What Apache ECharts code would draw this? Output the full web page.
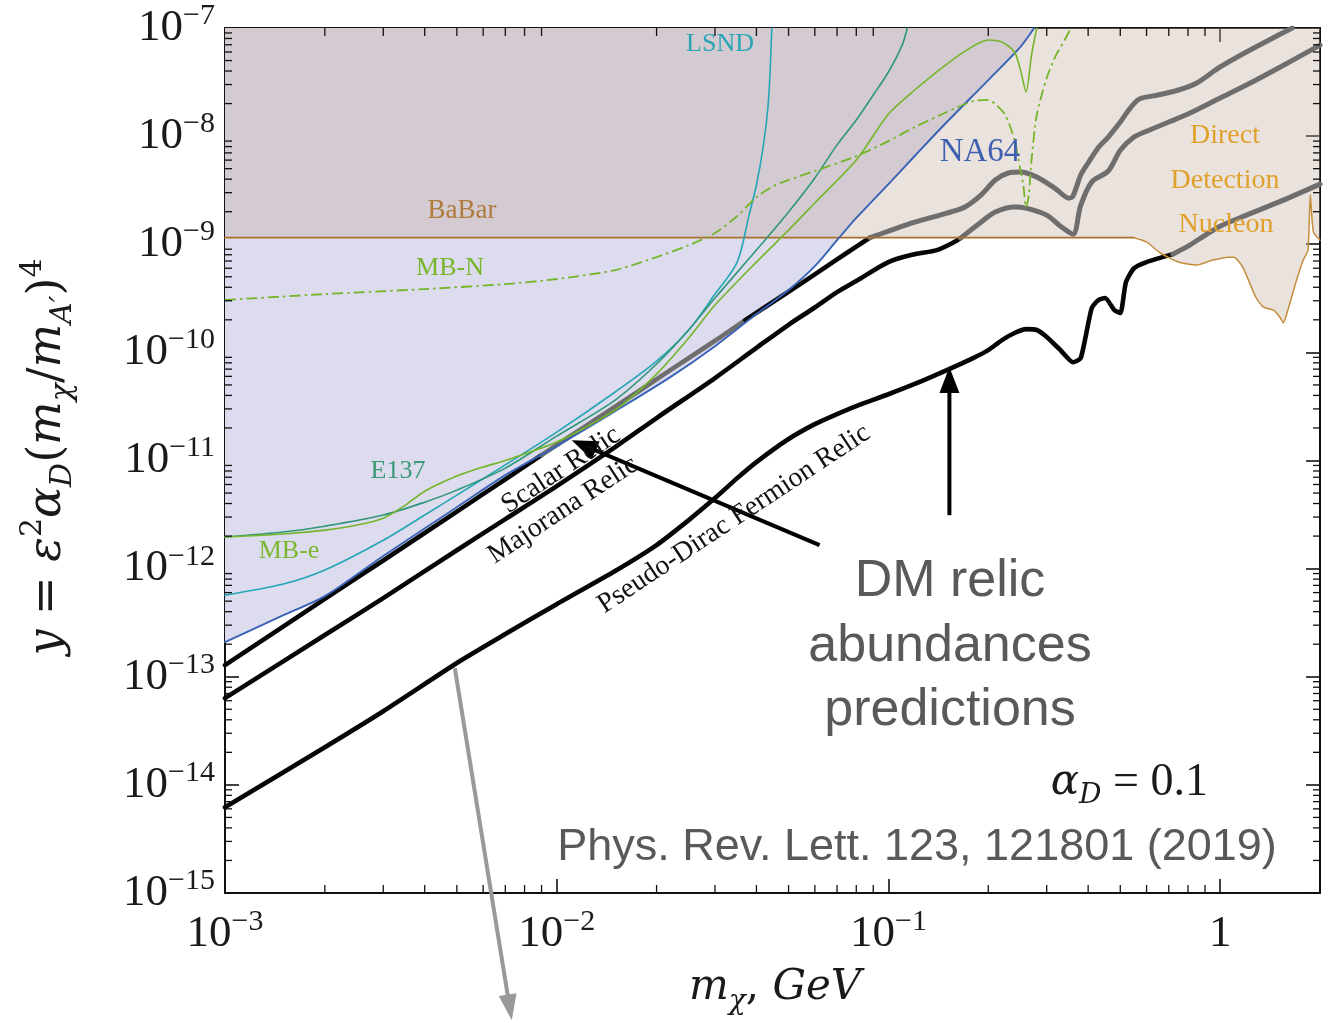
<!DOCTYPE html>
<html>
<head>
<meta charset="utf-8">
<script src="https://cdn.jsdelivr.net/npm/echarts/dist/echarts.min.js"></script>
<style>
  html, body { margin: 0; padding: 0; background: #ffffff; }
  #chart { width: 1339px; height: 1023px; }
</style>
</head>
<body>
<div id="chart"></div>
<script>
// ---- axis ranges (GeV, y) ----
const massRange = [1e-3, 2];
const yRange = [1e-15, 1e-7];
const minorSteps = [2, 3, 4, 5, 6, 7, 8, 9];

// ---- exclusion limits: [m_chi (GeV), y] ----
const na64 = [
  [1e-3, 2.09e-13], [1.5e-3, 3.71e-13], [2e-3, 5.56e-13], [3e-3, 1.31e-12], [5e-3, 3.7e-12],
  [7e-3, 7.33e-12], [1e-2, 1.36e-11], [1.5e-2, 2.86e-11], [2.2e-2, 5.9e-11], [3e-2, 1.14e-10],
  [4e-2, 2.26e-10], [5e-2, 3.77e-10], [6e-2, 6.27e-10], [7e-2, 1.09e-9], [8e-2, 1.75e-9],
  [0.1, 3.6e-9], [0.12, 6.55e-9], [0.15, 1.35e-8], [0.2, 3.3e-8], [0.25, 6.7e-8], [0.275, 1e-7]
];
const babar = [[1e-3, 1.15e-9], [0.55, 1.15e-9]];
const nucleon = [
  [0.55, 1.15e-9], [0.6, 1.05e-9], [0.66, 8.3e-10], [0.75, 6.84e-10], [0.85, 6.42e-10],
  [0.95, 7.14e-10], [1.06, 7.6e-10], [1.1, 7.6e-10], [1.17, 6.15e-10], [1.28, 3.25e-10],
  [1.35, 2.62e-10], [1.45, 2.46e-10], [1.52, 2.08e-10], [1.55, 1.87e-10], [1.6, 2.46e-10],
  [1.7, 4.67e-10], [1.78, 7.14e-10], [1.84, 8.8e-10], [1.87, 2.85e-9], [1.91, 1.3e-9], [2, 1.09e-9]
];
const lsnd = [
  [1e-3, 5.69e-13], [1.5e-3, 7.2e-13], [2e-3, 9.7e-13], [3e-3, 1.83e-12], [4e-3, 3.13e-12],
  [5e-3, 4.79e-12], [7e-3, 9.1e-12], [1e-2, 1.83e-11], [1.5e-2, 4.3e-11], [2e-2, 8.3e-11],
  [2.5e-2, 1.61e-10], [3e-2, 3.46e-10], [3.5e-2, 6.84e-10], [3.8e-2, 1.86e-9], [4e-2, 3.53e-9],
  [4.2e-2, 8.3e-9], [4.35e-2, 2.16e-8], [4.45e-2, 1e-7]
];
const e137 = [
  [1e-3, 1.96e-12], [1.5e-3, 2.18e-12], [2e-3, 2.47e-12], [3e-3, 3.13e-12], [4e-3, 4.12e-12],
  [5e-3, 5.32e-12], [7e-3, 8.5e-12], [1e-2, 1.68e-11], [1.5e-2, 3.62e-11], [2e-2, 7.8e-11],
  [2.5e-2, 1.61e-10], [3e-2, 3.18e-10], [4e-2, 8.83e-10], [5e-2, 1.99e-9], [6e-2, 4.1e-9],
  [7e-2, 8.3e-9], [8e-2, 1.41e-8], [9e-2, 2.4e-8], [0.1, 3.92e-8], [0.11, 6.95e-8], [0.114, 1e-7]
];
const mbElectron = [
  [1e-3, 1.96e-12], [1.5e-3, 2.09e-12], [2e-3, 2.27e-12], [2.5e-3, 2.53e-12], [3e-3, 2.93e-12],
  [3.5e-3, 3.87e-12], [4e-3, 5.2e-12], [5e-3, 7.18e-12], [6e-3, 8.7e-12], [7e-3, 1.0e-11],
  [1e-2, 1.48e-11], [1.5e-2, 2.93e-11], [2e-2, 6.3e-11], [2.5e-2, 1.36e-10], [3e-2, 2.74e-10],
  [4e-2, 6.84e-10], [5e-2, 1.35e-9], [6e-2, 2.41e-9], [8e-2, 6.0e-9], [0.1, 1.6e-8],
  [0.12, 2.67e-8], [0.15, 4.64e-8], [0.18, 6.8e-8], [0.2, 7.75e-8], [0.22, 7.4e-8],
  [0.24, 6.0e-8], [0.25, 4.1e-8], [0.26, 2.56e-8], [0.27, 5.6e-8], [0.28, 1e-7]
];
const mbNucleon = [
  [1e-3, 3.05e-10], [2e-3, 3.46e-10], [4e-3, 3.85e-10], [7e-3, 4.28e-10], [1e-2, 4.77e-10],
  [1.5e-2, 5.77e-10], [2e-2, 7.61e-10], [2.5e-2, 9.8e-10], [3e-2, 1.27e-9], [3.5e-2, 1.82e-9],
  [4e-2, 2.73e-9], [4.5e-2, 3.45e-9], [5e-2, 3.93e-9], [6e-2, 4.76e-9], [8e-2, 6.53e-9],
  [0.1, 9.0e-9], [0.12, 1.21e-8], [0.15, 1.67e-8], [0.18, 2.11e-8], [0.2, 2.16e-8],
  [0.21, 1.98e-8], [0.225, 1.57e-8], [0.24, 9.2e-9], [0.25, 4.85e-9], [0.255, 3.53e-9],
  [0.26, 2.21e-9], [0.265, 2.85e-9], [0.27, 6.0e-9], [0.28, 1.57e-8], [0.3, 3.45e-8],
  [0.32, 5.6e-8], [0.34, 7.75e-8], [0.355, 1e-7]
];

// ---- thermal relic targets (black = allowed, grey = already excluded) ----
const scalarAllowedLow = [[1e-3, 1.28e-13], [2e-3, 5.25e-13], [3e-3, 1.19e-12], [5e-3, 3.37e-12], [7e-3, 6.7e-12], [9e-3, 1.12e-11]];
const scalarExcludedLow = [[9e-3, 1.12e-11], [1e-2, 1.39e-11], [1.5e-2, 3.14e-11], [2.2e-2, 6.85e-11], [3e-2, 1.28e-10], [3.7e-2, 1.99e-10]];
const scalarAllowedMid = [[3.7e-2, 1.99e-10], [5e-2, 3.64e-10], [6e-2, 5.26e-10], [7e-2, 7.25e-10], [8e-2, 9.5e-10], [8.8e-2, 1.15e-9]];
const scalarExcludedHigh = [
  [8.8e-2, 1.15e-9], [0.1, 1.32e-9], [0.12, 1.6e-9], [0.15, 1.94e-9], [0.17, 2.21e-9], [0.19, 2.85e-9],
  [0.21, 3.93e-9], [0.23, 4.56e-9], [0.25, 4.65e-9], [0.28, 4.18e-9], [0.32, 3.24e-9], [0.35, 2.67e-9],
  [0.36, 2.79e-9], [0.38, 4.37e-9], [0.4, 5.64e-9], [0.43, 7.9e-9], [0.46, 9.8e-9], [0.5, 1.35e-8],
  [0.53, 1.74e-8], [0.57, 2.2e-8], [0.65, 2.4e-8], [0.75, 2.67e-8], [0.85, 3.1e-8], [1, 4.36e-8],
  [1.2, 6.0e-8], [1.5, 8.6e-8], [1.65, 1e-7]
];
const majoranaAllowed = [
  [1e-3, 6.34e-14], [2e-3, 2.43e-13], [3e-3, 5.34e-13], [5e-3, 1.48e-12], [7e-3, 2.87e-12],
  [1e-2, 5.8e-12], [1.5e-2, 1.33e-11], [2e-2, 2.47e-11], [3e-2, 5.79e-11], [4e-2, 1.1e-10],
  [5e-2, 1.8e-10], [6e-2, 2.6e-10], [7e-2, 3.61e-10], [8e-2, 4.57e-10], [0.1, 6.84e-10],
  [0.12, 8.1e-10], [0.14, 8.83e-10], [0.16, 1.07e-9], [0.165, 1.14e-9]
];
const majoranaExcluded = [
  [0.165, 1.14e-9], [0.19, 1.6e-9], [0.21, 1.99e-9], [0.24, 2.21e-9], [0.26, 2.16e-9], [0.3, 1.86e-9],
  [0.33, 1.47e-9], [0.36, 1.24e-9], [0.38, 2.3e-9], [0.41, 3.76e-9], [0.46, 4.76e-9], [0.5, 7.4e-9],
  [0.55, 9.8e-9], [0.6, 1.11e-8], [0.7, 1.35e-8], [0.8, 1.6e-8], [1, 2.25e-8], [1.2, 2.97e-8],
  [1.5, 4.27e-8], [2, 6.95e-8]
];
const pseudoDiracAllowed = [
  [1e-3, 6.2e-15], [2e-3, 2.23e-14], [3e-3, 4.8e-14], [5e-3, 1.34e-13], [7e-3, 2.48e-13],
  [1e-2, 4.69e-13], [1.5e-2, 9.5e-13], [2e-2, 1.65e-12], [2.5e-2, 2.81e-12], [3e-2, 4.49e-12],
  [3.5e-2, 6.87e-12], [4e-2, 9.67e-12], [5e-2, 1.58e-11], [6e-2, 2.17e-11], [7e-2, 2.69e-11],
  [8e-2, 3.19e-11], [0.1, 4.1e-11], [0.12, 5.1e-11], [0.15, 6.86e-11], [0.18, 8.86e-11],
  [0.2, 1.05e-10], [0.22, 1.3e-10], [0.24, 1.51e-10], [0.26, 1.64e-10], [0.28, 1.61e-10],
  [0.3, 1.39e-10], [0.33, 1.05e-10], [0.36, 8.1e-11], [0.38, 8.85e-11], [0.41, 2.57e-10],
  [0.43, 3.05e-10], [0.45, 3.18e-10], [0.48, 2.46e-10], [0.5, 2.31e-10], [0.52, 4.47e-10],
  [0.55, 6.0e-10], [0.6, 6.84e-10], [0.72, 8.1e-10]
];
const pseudoDiracExcluded = [[0.72, 8.1e-10], [0.8, 9.6e-10], [0.9, 1.21e-9], [1, 1.47e-9], [1.2, 1.86e-9], [1.5, 2.45e-9], [2, 3.6e-9]];

// ---- annotation arrows: [from, to] in data coordinates ----
const relicArrowScalar = [[6.2e-2, 1.65e-12], [1.11e-2, 1.54e-11]];
const relicArrowDirac = [[0.1527, 3.12e-12], [0.1527, 7.31e-11]];
const outgoingArrow = [[4.93e-3, 1.2e-13], [7.32e-3, 6.65e-17]];

// ---- styling ----
const SERIF = '"Liberation Serif", "Times New Roman", serif';
const MATH = '"DejaVu Serif", serif';
const SANS = '"Liberation Sans", Arial, sans-serif';
const AXIS_COLOR = '#111111';

function decadeLabel(v) {
  const l = Math.log10(v), e = Math.round(l);
  if (Math.abs(l - e) > 1e-6) return '';
  if (e === 0) return '{b|1}';
  return '{b|10}{s|\u2212' + (-e) + '}';
}
const tickRich = {
  b: { fontFamily: SERIF, fontSize: 45, color: '#1a1a1a', lineHeight: 54 },
  s: { fontFamily: SERIF, fontSize: 30, color: '#1a1a1a', verticalAlign: 'top' }
};

function logAxis(extra) {
  return Object.assign({
    type: 'log', logBase: 10,
    axisLine: { show: true, onZero: false, lineStyle: { color: AXIS_COLOR, width: 2 } },
    axisTick: { show: true, inside: true, length: 14, lineStyle: { color: AXIS_COLOR, width: 1.6 } },
    splitLine: { show: false },
    minorTick: { show: false },
    minorSplitLine: { show: false }
  }, extra);
}

function curve(name, data, color, width, extra) {
  return Object.assign({
    name: name, type: 'line', data: data, showSymbol: false, symbol: 'none',
    smooth: 0.3, silent: true, z: 4,
    lineStyle: { color: color, width: width, cap: 'round', join: 'round' }
  }, extra || {});
}

const relicBlack = '#060606';
const relicGrey = '#6e6e6e';
const relicWidth = 4.6;

// minor tick positions (decade x 2..9)
const xMinor = [];
for (let e = -3; e <= 0; e++) minorSteps.forEach(k => { const v = k * Math.pow(10, e); if (v < massRange[1]) xMinor.push([v, 1e-11]); });
const yMinor = [];
for (let e = -15; e < -7; e++) minorSteps.forEach(k => yMinor.push([1e-2, k * Math.pow(10, e)]));

const chart = echarts.init(document.getElementById('chart'), null, { renderer: 'canvas' });

const ddBoundary = babar.concat(nucleon.slice(1));

chart.setOption({
  animation: false,
  backgroundColor: '#ffffff',
  grid: { left: 225, top: 28, width: 1095, height: 865, containLabel: false },
  xAxis: [
    logAxis({ min: massRange[0], max: massRange[1], position: 'bottom',
      axisLabel: { formatter: decadeLabel, rich: tickRich, margin: 14 } }),
    logAxis({ min: massRange[0], max: massRange[1], position: 'top', axisLabel: { show: false } })
  ],
  yAxis: [
    logAxis({ min: yRange[0], max: yRange[1], position: 'left',
      axisLabel: { formatter: decadeLabel, rich: tickRich, margin: 10 } }),
    logAxis({ min: yRange[0], max: yRange[1], position: 'right', axisLabel: { show: false } })
  ],
  series: [
    // excluded regions
    { name: 'NA64 region', type: 'line', data: na64, smooth: 0.3, showSymbol: false, symbol: 'none', silent: true, z: 1,
      lineStyle: { width: 0, opacity: 0 }, areaStyle: { color: '#dcdcee', opacity: 1, origin: 'end' } },
    { name: 'BaBar / Direct Detection region', type: 'line', data: ddBoundary, smooth: 0.2, showSymbol: false, symbol: 'none', silent: true, z: 2,
      lineStyle: { width: 0, opacity: 0 }, areaStyle: { color: 'rgba(198,176,158,0.36)', opacity: 1, origin: 'end' } },

    // relic targets
    curve('Scalar', scalarAllowedLow, relicBlack, relicWidth, { z: 3 }),
    curve('Scalar (excluded)', scalarExcludedLow, relicGrey, relicWidth, { z: 3 }),
    curve('Scalar', scalarAllowedMid, relicBlack, relicWidth, { z: 3 }),
    curve('Scalar (excluded)', scalarExcludedHigh, relicGrey, relicWidth + 0.4, { z: 3 }),
    curve('Majorana', majoranaAllowed, relicBlack, relicWidth, { z: 3 }),
    curve('Majorana (excluded)', majoranaExcluded, relicGrey, relicWidth + 0.4, { z: 3 }),
    curve('Pseudo-Dirac', pseudoDiracAllowed, relicBlack, relicWidth, { z: 3, smooth: 0.2 }),
    curve('Pseudo-Dirac (excluded)', pseudoDiracExcluded, relicGrey, relicWidth + 0.4, { z: 3 }),

    // limit curves
    curve('BaBar', babar, '#a8712f', 1.8, { smooth: false }),
    curve('Direct Detection Nucleon', nucleon, '#c48d3c', 1.5, { smooth: 0.2 }),
    curve('NA64', na64, '#3862b6', 1.9),
    curve('LSND', lsnd, '#25a6b6', 1.6),
    curve('E137', e137, '#2f9679', 1.6),
    curve('MB-e', mbElectron, '#74b52a', 1.6, { smooth: 0.25 }),
    curve('MB-N', mbNucleon, '#74b52a', 1.8, { smooth: 0.25,
      lineStyle: { color: '#74b52a', width: 1.8, type: [11, 4, 2.5, 4] } }),

    // minor ticks on all four sides
    { type: 'custom', silent: true, clip: false, z: 10, data: xMinor,
      renderItem: function (params, api) {
        const cs = params.coordSys;
        const p = api.coord([api.value(0), api.value(1)]);
        const L = 8;
        return { type: 'group', children: [
          { type: 'line', shape: { x1: p[0], y1: cs.y + cs.height, x2: p[0], y2: cs.y + cs.height - L }, style: { stroke: AXIS_COLOR, lineWidth: 1.3 } },
          { type: 'line', shape: { x1: p[0], y1: cs.y, x2: p[0], y2: cs.y + L }, style: { stroke: AXIS_COLOR, lineWidth: 1.3 } }
        ] };
      } },
    { type: 'custom', silent: true, clip: false, z: 10, data: yMinor,
      renderItem: function (params, api) {
        const cs = params.coordSys;
        const p = api.coord([api.value(0), api.value(1)]);
        const L = 7;
        return { type: 'group', children: [
          { type: 'line', shape: { x1: cs.x, y1: p[1], x2: cs.x + L, y2: p[1] }, style: { stroke: AXIS_COLOR, lineWidth: 1.3 } },
          { type: 'line', shape: { x1: cs.x + cs.width, y1: p[1], x2: cs.x + cs.width - L, y2: p[1] }, style: { stroke: AXIS_COLOR, lineWidth: 1.3 } }
        ] };
      } }
  ]
});

// ---- annotations ----
function arrow(seg, color, width, headLen, headW) {
  const p0 = chart.convertToPixel({ gridIndex: 0 }, seg[0]);
  const p1 = chart.convertToPixel({ gridIndex: 0 }, seg[1]);
  const dx = p1[0] - p0[0], dy = p1[1] - p0[1];
  const len = Math.hypot(dx, dy), ux = dx / len, uy = dy / len;
  const bx = p1[0] - ux * headLen, by = p1[1] - uy * headLen;
  return [
    { type: 'line', z: 50, shape: { x1: p0[0], y1: p0[1], x2: bx + ux * 2, y2: by + uy * 2 }, style: { stroke: color, lineWidth: width } },
    { type: 'polygon', z: 50, shape: { points: [[p1[0], p1[1]], [bx - uy * headW / 2, by + ux * headW / 2], [bx + uy * headW / 2, by - ux * headW / 2]] }, style: { fill: color } }
  ];
}

function label(text, x, y, color, size, opts) {
  opts = opts || {};
  return {
    type: 'text', z: 60, x: x, y: y, rotation: opts.rotation || 0,
    style: {
      text: text, x: 0, y: 0, fill: color,
      font: (opts.italic ? 'italic ' : '') + size + 'px ' + (opts.family || SERIF),
      align: opts.align || 'center', verticalAlign: 'middle',
      textAlign: opts.align || 'center', textVerticalAlign: 'middle'
    }
  };
}

const slope = Math.atan(0.662);
const graphics = [
  label('LSND', 720, 44, '#2aa5b5', 26),
  label('BaBar', 462, 211, '#b07c3c', 27),
  label('MB-N', 450, 268, '#78b52b', 26),
  label('E137', 398, 471, '#3a9a76', 26),
  label('MB-e', 289, 551, '#7cb82f', 26),
  label('NA64', 980, 152, '#3f60b0', 33),
  label('Direct', 1225, 136, '#e0a02a', 28),
  label('Detection', 1225, 181, '#e0a02a', 28),
  label('Nucleon', 1226, 225, '#e0a02a', 28),
  label('Scalar Relic', 561, 470, '#111', 28, { rotation: slope }),
  label('Majorana Relic', 563, 510, '#111', 28, { rotation: slope }),
  label('Pseudo-Dirac Fermion Relic', 734, 519, '#111', 28, { rotation: slope }),
  label('DM relic', 950, 582, '#595959', 52, { family: SANS }),
  label('abundances', 950, 647, '#595959', 52, { family: SANS }),
  label('predictions', 950, 711, '#595959', 52, { family: SANS }),
  label('Phys. Rev. Lett. 123, 121801 (2019)', 917, 848, '#595959', 45, { family: SANS }),
  { type: 'text', z: 60, x: 1208, y: 783, style: {
      text: '{a|\u03b1}{d|D}{r| = 0.1}', x: 0, y: 0, align: 'right', verticalAlign: 'middle',
      textAlign: 'right', textVerticalAlign: 'middle',
      rich: {
        a: { fontFamily: MATH, fontStyle: 'italic', fontSize: 42, fill: '#1a1a1a', color: '#1a1a1a', lineHeight: 54 },
        d: { fontFamily: MATH, fontStyle: 'italic', fontSize: 28, fill: '#1a1a1a', color: '#1a1a1a', verticalAlign: 'bottom' },
        r: { fontFamily: SERIF, fontSize: 46, fill: '#1a1a1a', color: '#1a1a1a', lineHeight: 54 }
      } } },
  // x axis title
  { type: 'text', z: 60, x: 775, y: 988, style: {
      text: '{i|m}{d|\u03c7}{n|, }{i|GeV}', x: 0, y: 0, align: 'center', verticalAlign: 'middle',
      textAlign: 'center', textVerticalAlign: 'middle',
      rich: {
        i: { fontFamily: MATH, fontStyle: 'italic', fontSize: 42, fill: '#1a1a1a', color: '#1a1a1a', lineHeight: 56 },
        n: { fontFamily: MATH, fontSize: 42, fill: '#1a1a1a', color: '#1a1a1a', lineHeight: 56 },
        d: { fontFamily: MATH, fontStyle: 'italic', fontSize: 28, fill: '#1a1a1a', color: '#1a1a1a', verticalAlign: 'bottom' }
      } } },
  // y axis title
  { type: 'text', z: 60, x: 48, y: 457, rotation: Math.PI / 2, style: {
      text: '{i|y}{n| = }{i|\u03b5}{p|2}{i|\u03b1}{d|D}{n|(}{i|m}{d|\u03c7}{n|/}{i|m}{d|A\u2032}{n|)}{p|4}',
      x: 0, y: 0, align: 'center', verticalAlign: 'middle', textAlign: 'center', textVerticalAlign: 'middle',
      rich: {
        i: { fontFamily: MATH, fontStyle: 'italic', fontSize: 46, fill: '#1a1a1a', color: '#1a1a1a', lineHeight: 60 },
        n: { fontFamily: MATH, fontSize: 46, fill: '#1a1a1a', color: '#1a1a1a', lineHeight: 60 },
        p: { fontFamily: MATH, fontSize: 30, fill: '#1a1a1a', color: '#1a1a1a', verticalAlign: 'top' },
        d: { fontFamily: MATH, fontStyle: 'italic', fontSize: 30, fill: '#1a1a1a', color: '#1a1a1a', verticalAlign: 'bottom' }
      } } }
].concat(
  arrow(relicArrowScalar, '#000000', 4, 26, 20),
  arrow(relicArrowDirac, '#000000', 4, 26, 20),
  arrow(outgoingArrow, '#999999', 4, 26, 18)
);

chart.setOption({ graphic: graphics });
</script>
</body>
</html>
